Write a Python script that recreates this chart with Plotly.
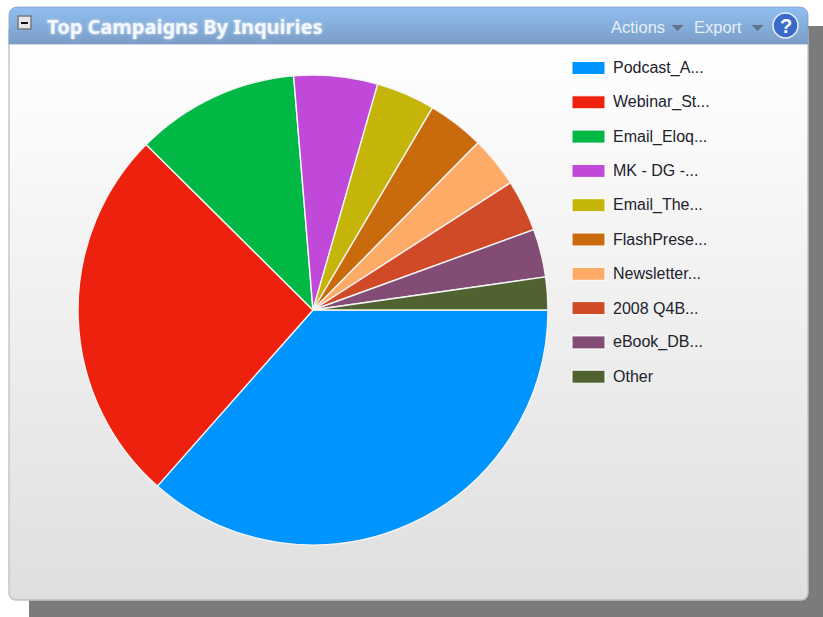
import numpy as np
import plotly.graph_objects as go

W, H = 823, 617

# Campaign shares, in percent, in clockwise drawing order
campaigns = ["Podcast_A...", "Webinar_St...", "Email_Eloq...", "MK - DG -...", "Email_The...",
             "FlashPrese...", "Newsletter...", "2008 Q4B...", "eBook_DB...", "Other"]
shares = [36.5, 25.9, 11.25, 5.75, 4.05, 3.9, 3.5, 3.55, 3.3, 2.25]
colors = ["#0094ff", "#ee200e", "#00b843", "#c049d9", "#c4b508",
          "#c96a0c", "#ffab68", "#d04a28", "#824c74", "#4f6230"]

title = "Top Campaigns By Inquiries"
header_actions = ["Actions", "Export"]


def rounded_outline(x0, y0, x1, y1, top_r, bottom_r):
    """Closed outline of a box with separately rounded top and bottom corners."""
    xs, ys = [], []
    corners = [
        (x0 + top_r, y0 + top_r, top_r, 180, 270),
        (x1 - top_r, y0 + top_r, top_r, 270, 360),
        (x1 - bottom_r, y1 - bottom_r, bottom_r, 0, 90),
        (x0 + bottom_r, y1 - bottom_r, bottom_r, 90, 180),
    ]
    for cx, cy, r, a0, a1 in corners:
        t = np.radians(np.linspace(a0, a1, 9))
        xs += list(cx + r * np.cos(t))
        ys += list(cy + r * np.sin(t))
    return xs + xs[:1], ys + ys[:1]


fig = go.Figure()

# Panel body with its vertical gradient
bx, by = rounded_outline(9, 30, 808, 600, 0, 7)
fig.add_trace(go.Scatter(
    x=bx, y=by, mode="lines", fill="toself",
    line=dict(color="#c4c4c4", width=1.4),
    fillgradient=dict(type="vertical", start=44, stop=600,
                      colorscale=[[0, "#ffffff"], [1, "#dfdfdf"]]),
    hoverinfo="skip", showlegend=False))

# Header bar
hx, hy = rounded_outline(9, 7, 808, 44, 8, 0)
fig.add_trace(go.Scatter(
    x=hx, y=hy, mode="lines", fill="toself",
    line=dict(color="#7f9fc6", width=0.8),
    fillgradient=dict(type="vertical", start=7, stop=44,
                      colorscale=[[0, "#90bff0"], [1, "#7a9dc6"]]),
    hoverinfo="skip", showlegend=False))

# The pie itself, starting due east and running clockwise
fig.add_trace(go.Pie(
    labels=campaigns, values=shares, sort=False, direction="clockwise", rotation=90,
    marker=dict(colors=colors, line=dict(color="#f4f4f4", width=1.4)),
    textinfo="none", hoverinfo="label+percent", showlegend=False,
    domain=dict(x=[78 / W, 548 / W], y=[1 - 545 / H, 1 - 75 / H])))

# Drop shadow behind the panel
shapes = [dict(type="rect", xref="x", yref="y", x0=29, y0=26, x1=823, y1=617,
               fillcolor="#7b7b7b", line_width=0, layer="below")]
annotations = []

# Legend swatches and labels
for i, (name, color) in enumerate(zip(campaigns, colors)):
    yc = 68 + i * 34.3
    shapes.append(dict(type="rect", xref="x", yref="y", x0=572, x1=605, y0=yc - 6.5, y1=yc + 6.5,
                       fillcolor=color, line=dict(color="#ffffff", width=1)))
    annotations.append(dict(x=611, y=yc, text=name, showarrow=False, xanchor="left",
                            yanchor="middle",
                            font=dict(family="Liberation Sans", size=16, color="#22222c")))

# Header text
annotations.append(dict(x=45, y=26.5, text=f"<b>{title}</b>", showarrow=False, xanchor="left",
                        yanchor="middle",
                        font=dict(family="Noto Sans", size=20, color="#f4f8fd",
                                  shadow="0 0 3px #dbe8f8")))
for label, x in zip(header_actions, [609, 692]):
    annotations.append(dict(x=x, y=27, text=label, showarrow=False, xanchor="left",
                            yanchor="middle",
                            font=dict(family="Liberation Sans", size=16.5, color="#e6eff9")))

# Drop-down carets next to the header actions
for x in (677.5, 757.5):
    shapes.append(dict(type="path", xref="x", yref="y", path=f"M{x - 6},25 L{x + 6},25 L{x},31 Z",
                       fillcolor="#5f7288", line_width=0))

# Collapse button
shapes.append(dict(type="rect", xref="x", yref="y", x0=18, y0=16, x1=31, y1=29,
                   fillcolor="#e6e6e6", line=dict(color="#77797c", width=1.5)))
shapes.append(dict(type="rect", xref="x", yref="y", x0=21, y0=22, x1=28, y1=24,
                   fillcolor="#111111", line_width=0))

# Help button
shapes.append(dict(type="circle", xref="x", yref="y", x0=773, y0=13, x1=798, y1=38,
                   fillcolor="#3a6bc8", line=dict(color="#e8effa", width=1.5)))
annotations.append(dict(x=785.5, y=25.5, text="<b>?</b>", showarrow=False,
                        font=dict(family="Liberation Sans", size=20, color="#ffffff")))

fig.update_layout(
    width=W, height=H, margin=dict(l=0, r=0, t=0, b=0),
    paper_bgcolor="#ffffff", plot_bgcolor="#ffffff",
    xaxis=dict(visible=False, range=[0, W], fixedrange=True),
    yaxis=dict(visible=False, range=[H, 0], fixedrange=True),
    shapes=shapes, annotations=annotations)

fig.write_html("out.html", config=dict(displayModeBar=False))
